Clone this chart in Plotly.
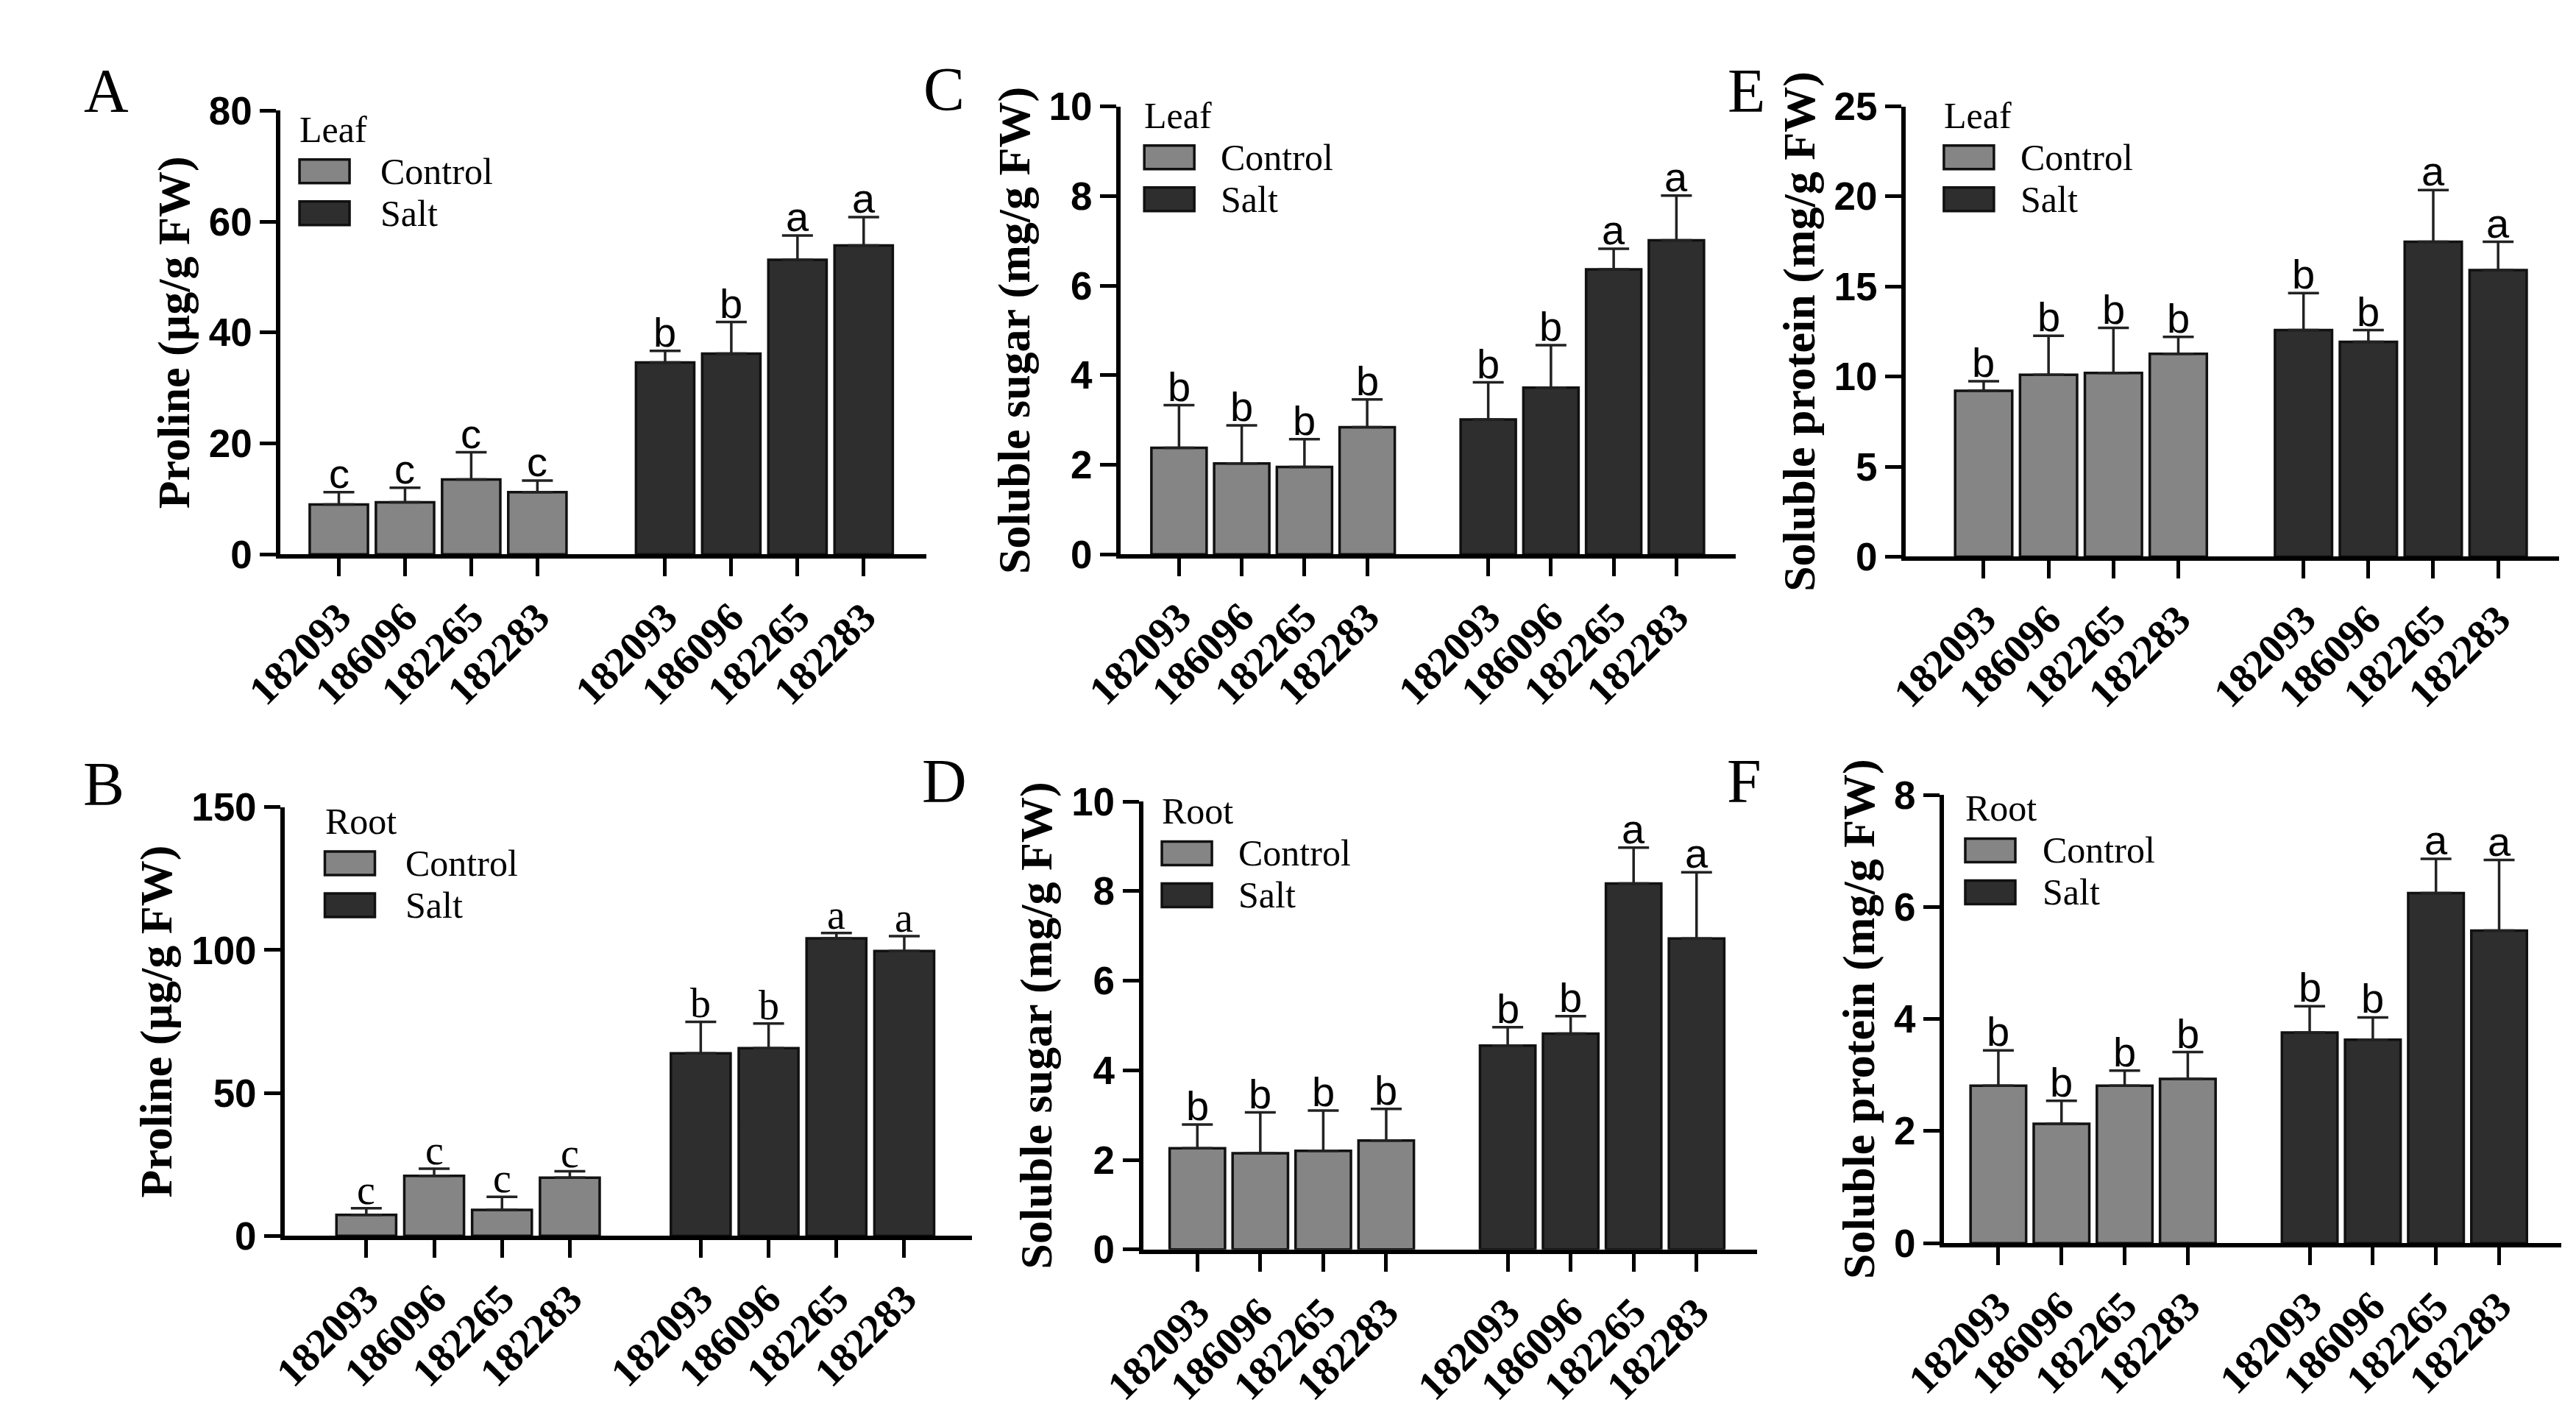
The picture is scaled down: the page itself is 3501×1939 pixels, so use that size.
import plotly.graph_objects as go
from plotly.subplots import make_subplots

# genotypes and treatments
genotypes = ["182093", "186096", "182265", "182283"]
treatments = ["Control", "Salt"]

# A - proline, leaf
proline_leaf_ctrl = [9.0, 9.4, 13.5, 11.2]
proline_leaf_ctrl_err = [2.2, 2.6, 4.9, 2.1]
proline_leaf_salt = [34.6, 36.2, 53.1, 55.7]
proline_leaf_salt_err = [2.1, 5.7, 4.4, 5.1]
proline_leaf_sig = ["c", "c", "c", "c", "b", "b", "a", "a"]

# B - proline, root
proline_root_ctrl = [7.4, 21.0, 9.1, 20.4]
proline_root_ctrl_err = [2.3, 2.5, 4.6, 2.2]
proline_root_salt = [63.9, 65.7, 104.1, 99.7]
proline_root_salt_err = [11.0, 8.6, 1.9, 5.2]
proline_root_sig = ["c", "c", "c", "c", "b", "b", "a", "a"]

# C - soluble sugar, leaf
sugar_leaf_ctrl = [2.38, 2.03, 1.95, 2.84]
sugar_leaf_ctrl_err = [0.95, 0.85, 0.62, 0.62]
sugar_leaf_salt = [3.01, 3.72, 6.36, 7.01]
sugar_leaf_salt_err = [0.83, 0.95, 0.46, 1.0]
sugar_leaf_sig = ["b", "b", "b", "b", "b", "b", "a", "a"]

# D - soluble sugar, root
sugar_root_ctrl = [2.26, 2.15, 2.20, 2.43]
sugar_root_ctrl_err = [0.53, 0.91, 0.90, 0.71]
sugar_root_salt = [4.55, 4.82, 8.17, 6.94]
sugar_root_salt_err = [0.41, 0.39, 0.80, 1.48]
sugar_root_sig = ["b", "b", "b", "b", "b", "b", "a", "a"]

# E - soluble protein, leaf
protein_leaf_ctrl = [9.21, 10.10, 10.20, 11.26]
protein_leaf_ctrl_err = [0.53, 2.17, 2.5, 0.94]
protein_leaf_salt = [12.58, 11.93, 17.48, 15.91]
protein_leaf_salt_err = [2.05, 0.65, 2.87, 1.57]
protein_leaf_sig = ["b", "b", "b", "b", "b", "b", "a", "a"]

# F - soluble protein, root
protein_root_ctrl = [2.81, 2.13, 2.81, 2.93]
protein_root_ctrl_err = [0.63, 0.41, 0.27, 0.48]
protein_root_salt = [3.76, 3.63, 6.25, 5.58]
protein_root_salt_err = [0.47, 0.40, 0.61, 1.26]
protein_root_sig = ["b", "b", "b", "b", "b", "b", "a", "a"]

SERIF = "Liberation Serif"
SANS = "Liberation Sans"
CTRL_COLOR = "#858585"
SALT_COLOR = "#2e2e2e"
GAP = 0.93
LEG_STEP = 57  # px between legend rows

# x positions: control group then salt group after a gap
pos_ctrl = list(range(len(genotypes)))
pos_salt = [p + len(genotypes) + GAP for p in pos_ctrl]

# (row, col, letter, tissue, y title, ymax, dtick, ctrl, ctrl_err, salt, salt_err, sig, sig font)
panels = [
    (1, 1, "A", "Leaf", "Proline (µg/g FW)", 80, 20,
     proline_leaf_ctrl, proline_leaf_ctrl_err, proline_leaf_salt, proline_leaf_salt_err, proline_leaf_sig, SANS),
    (2, 1, "B", "Root", "Proline (µg/g FW)", 150, 50,
     proline_root_ctrl, proline_root_ctrl_err, proline_root_salt, proline_root_salt_err, proline_root_sig, SERIF),
    (1, 2, "C", "Leaf", "Soluble sugar (mg/g FW)", 10, 2,
     sugar_leaf_ctrl, sugar_leaf_ctrl_err, sugar_leaf_salt, sugar_leaf_salt_err, sugar_leaf_sig, SANS),
    (2, 2, "D", "Root", "Soluble sugar (mg/g FW)", 10, 2,
     sugar_root_ctrl, sugar_root_ctrl_err, sugar_root_salt, sugar_root_salt_err, sugar_root_sig, SANS),
    (1, 3, "E", "Leaf", "Soluble protein (mg/g FW)", 25, 5,
     protein_leaf_ctrl, protein_leaf_ctrl_err, protein_leaf_salt, protein_leaf_salt_err, protein_leaf_sig, SANS),
    (2, 3, "F", "Root", "Soluble protein (mg/g FW)", 8, 2,
     protein_root_ctrl, protein_root_ctrl_err, protein_root_salt, protein_root_salt_err, protein_root_sig, SANS),
]

# layout per panel: x domain, y domain, x padding (left, right), panel letter spot
layout_cfg = {
    "A": ([0.0908, 0.346], [0.619, 0.9397], (0.88, 0.95), (0.022, 0.954)),
    "B": ([0.0925, 0.364], [0.1264, 0.4363], (1.20, 1.00), (0.021, 0.453)),
    "C": ([0.4227, 0.6658], [0.619, 0.9428], (0.93, 0.95), (0.353, 0.955)),
    "D": ([0.4316, 0.6741], [0.1166, 0.4404], (0.86, 0.96), (0.353, 0.455)),
    "E": ([0.7329, 0.9910], [0.6173, 0.9428], (1.20, 0.94), (0.670, 0.954)),
    "F": ([0.7480, 0.9920], [0.1212, 0.4451], (0.86, 0.99), (0.669, 0.455)),
}
# in-panel legend: left x, text x, title y (axis-domain fractions)
legend_cfg = {
    "A": (0.027, 0.152, 0.958),
    "B": (0.056, 0.173, 0.967),
    "C": (0.036, 0.160, 0.980),
    "D": (0.028, 0.153, 0.978),
    "E": (0.056, 0.173, 0.980),
    "F": (0.032, 0.157, 0.970),
}

fig = make_subplots(rows=2, cols=3)

for (row, col, letter, tissue, ytitle, ymax, dtick,
     ctrl, ctrl_err, salt, salt_err, sig, sig_font) in panels:
    n = (row - 1) * 3 + col
    ax = "" if n == 1 else str(n)
    xd, yd, (padl, padr), (lx, ly) = layout_cfg[letter]

    for name, xs, ys, es, color in [("Control", pos_ctrl, ctrl, ctrl_err, CTRL_COLOR),
                                     ("Salt", pos_salt, salt, salt_err, SALT_COLOR)]:
        fig.add_trace(go.Bar(
            x=xs, y=ys, name=name, width=0.88,
            marker=dict(color=color, line=dict(color="#111111", width=3.5)),
            error_y=dict(type="data", symmetric=False, array=es,
                         arrayminus=[0] * len(es), color="#222222",
                         thickness=3.5, width=21),
            showlegend=False,
        ), row=row, col=col)

    # significance letters above the error bars
    tops = [v + e for v, e in zip(ctrl + salt, ctrl_err + salt_err)]
    for xv, yv, s in zip(pos_ctrl + pos_salt, tops, sig):
        fig.add_annotation(x=xv, y=yv, xref="x" + ax, yref="y" + ax, text=s,
                           showarrow=False, yanchor="bottom", yshift=-8,
                           font=dict(family=sig_font, size=56, color="black"))

    fig.update_xaxes(domain=xd, range=[-padl, pos_salt[-1] + padr],
                     tickvals=pos_ctrl + pos_salt, ticktext=genotypes + genotypes,
                     tickangle=-45, ticks="outside", ticklen=24, tickwidth=5,
                     tickcolor="black", showline=True, linewidth=6, linecolor="black",
                     showgrid=False, zeroline=False,
                     tickfont=dict(family=SERIF, size=56, color="black", weight="bold"),
                     row=row, col=col)
    fig.update_yaxes(domain=yd, range=[0, ymax], dtick=dtick, tick0=0,
                     ticks="outside", ticklen=22, tickwidth=5, tickcolor="black",
                     showline=True, linewidth=6, linecolor="black",
                     showgrid=False, zeroline=False,
                     tickfont=dict(family=SANS, size=53, color="black", weight="bold"),
                     title=dict(text=ytitle, standoff=8,
                                font=dict(family=SERIF, size=62, color="black", weight="bold")),
                     row=row, col=col)

    # legend drawn inside the panel (tissue title + two swatches)
    lgx, lgtx, ty = legend_cfg[letter]
    xdom, ydom = "x" + ax + " domain", "y" + ax + " domain"
    fig.add_annotation(x=lgx, y=ty, xref=xdom, yref=ydom, text=tissue,
                       showarrow=False, xanchor="left", yanchor="middle",
                       font=dict(family=SERIF, size=50, color="black"))
    for k, (name, color) in enumerate([("Control", CTRL_COLOR), ("Salt", SALT_COLOR)]):
        dy = -(k + 1) * LEG_STEP
        fig.add_shape(type="rect", xref=xdom, yref=ydom,
                      xsizemode="pixel", ysizemode="pixel", xanchor=lgx, yanchor=ty,
                      x0=2, x1=70, y0=dy - 16, y1=dy + 16,
                      fillcolor=color, line=dict(color="#111111", width=3.5))
        fig.add_annotation(x=lgtx, y=ty, xref=xdom, yref=ydom, text=name,
                           showarrow=False, xanchor="left", yanchor="middle", yshift=dy,
                           font=dict(family=SERIF, size=50, color="black"))

    fig.add_annotation(x=lx, y=ly, xref="paper", yref="paper", text=letter,
                       showarrow=False, xanchor="center", yanchor="middle",
                       font=dict(family=SERIF, size=84, color="black"))

fig.update_layout(
    width=3501, height=1939,
    margin=dict(l=0, r=0, t=0, b=0),
    plot_bgcolor="white", paper_bgcolor="white",
    barmode="overlay",
    showlegend=False,
)

fig.write_html("out.html")
